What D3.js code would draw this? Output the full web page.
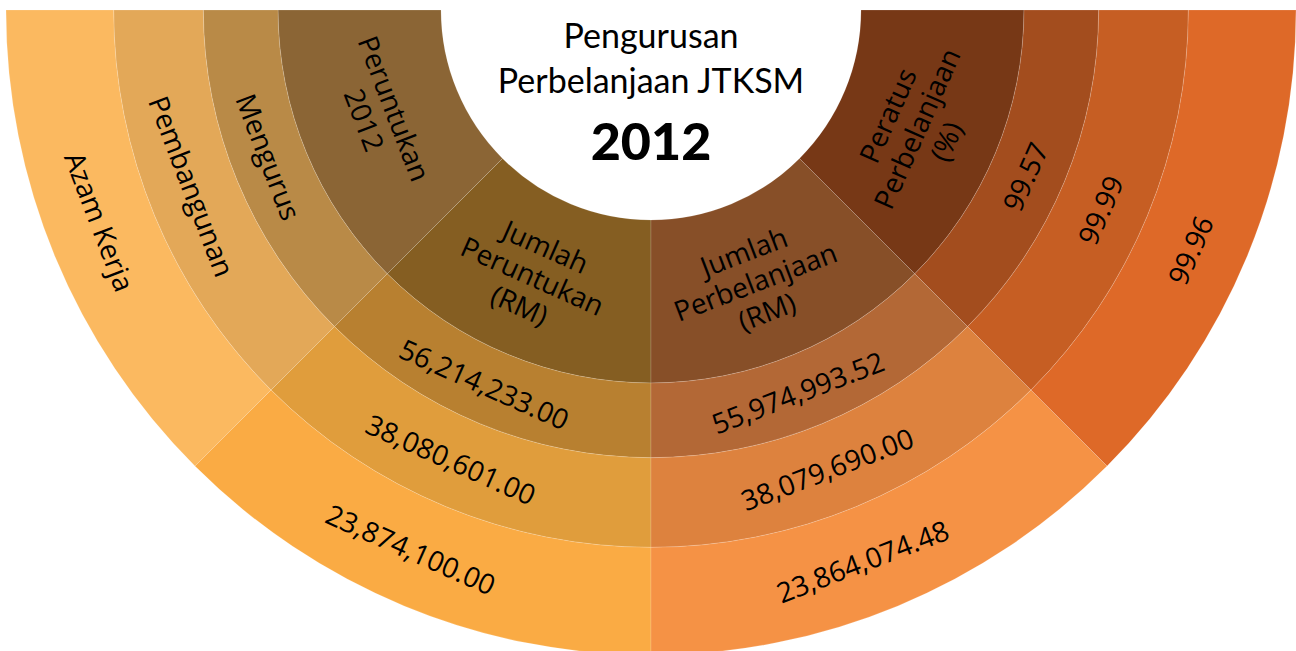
<!DOCTYPE html>
<html>
<head>
<meta charset="utf-8">
<script src="https://cdn.jsdelivr.net/npm/d3@7"></script>
<style>
  body { margin: 0; background: #fff; }
  svg { display: block; }
</style>
</head>
<body>
<div id="container"></div>
<script>
// table values
var columns = ["kepala", "peruntukan", "perbelanjaan", "peratus"];
var columnHeads = ["Peruntukan\n2012", "Jumlah\nPeruntukan\n(RM)", "Jumlah\nPerbelanjaan\n(RM)", "Peratus\nPerbelanjaan\n(%)"];
var categories = ["Mengurus", "Pembangunan", "Azam Kerja"];
var peruntukan = [56214233.00, 38080601.00, 23874100.00];
var perbelanjaan = [55974993.52, 38079690.00, 23864074.48];
var peratus = [99.57, 99.99, 99.96];
var titleLines = ["Pengurusan", "Perbelanjaan JTKSM"];
var titleYear = "2012";

// one colour per column, one shade per ring (inner -> outer)
var colours = [
    ["#8b6535", "#b98a47", "#e3a858", "#fbb960"],
    ["#855e22", "#b88030", "#e09d3c", "#faab44"],
    ["#874f28", "#b36836", "#dd823e", "#f59245"],
    ["#773816", "#a34d1e", "#c65e23", "#de6928"]
];

class HalfWheel {

    constructor(opts) {
        this.element = opts.element;
        this.width = 1296;
        this.height = 651;
        this.cx = 651;
        this.cy = 10;
        this.draw();
    }

    draw() {
        var money = d3.format(",.2f");

        // build the rows of the wheel: ring 0 is the header ring
        var rows = [columnHeads];
        categories.forEach(function (c, i) {
            rows.push([c, money(peruntukan[i]), money(perbelanjaan[i]), peratus[i].toFixed(2)]);
        });

        var cells = [];
        rows.forEach(function (row, ri) {
            row.forEach(function (txt, ci) {
                cells.push({ ring: ri, col: columns[ci], ci: ci, text: txt });
            });
        });

        // columns share the lower half of the circle (d3 angles: pi/2 .. 3pi/2)
        var angle = d3.scaleBand()
            .domain(columns)
            .range([3 * Math.PI / 2, Math.PI / 2]);

        // ring edges: header ring, then rings growing by a constant ratio
        var inner = 210;
        var rowRadius = d3.scaleLog().domain([373, 645]).range([1, rows.length]);
        var edge = function (i) { return i === 0 ? inner : rowRadius.invert(i); };

        var arc = d3.arc()
            .innerRadius(function (d) { return edge(d.ring); })
            .outerRadius(function (d) { return edge(d.ring + 1); })
            .startAngle(function (d) { return angle(d.col); })
            .endAngle(function (d) { return angle(d.col) + angle.bandwidth(); });

        var svg = d3.select(this.element)
            .append("svg")
            .attr("width", this.width)
            .attr("height", this.height);

        var g = svg.append("g")
            .attr("transform", "translate(" + this.cx + "," + this.cy + ")");

        g.selectAll("path.cell")
            .data(cells)
            .enter()
            .append("path")
            .attr("class", "cell")
            .attr("d", arc)
            .attr("fill", function (d) { return colours[d.ci][d.ring]; })
            .style("stroke", "rgba(255,255,255,0.2)")
            .style("stroke-width", 0.8);

        // labels sit in the middle of each cell, written along the ring
        var lineH = 32;
        var shift = 1.5 * Math.PI / 180;
        var labels = g.selectAll("text.cell")
            .data(cells)
            .enter()
            .append("text")
            .attr("class", "cell")
            .attr("transform", function (d) {
                var a = angle(d.col) + angle.bandwidth() / 2 + shift;
                var r = (edge(d.ring) + edge(d.ring + 1)) / 2;
                var x = r * Math.sin(a), y = -r * Math.cos(a);
                return "translate(" + x + "," + y + ") rotate(" + (a * 180 / Math.PI - 180) + ")";
            })
            .attr("text-anchor", "middle")
            .style("font-family", "'Open Sans', sans-serif")
            .style("font-size", "28px")
            .style("fill", "#000");

        labels.each(function (d) {
            var lines = d.text.split("\n");
            var t = d3.select(this);
            lines.forEach(function (l, i) {
                t.append("tspan")
                    .attr("x", 0)
                    .attr("y", (i - (lines.length - 1) / 2) * lineH)
                    .attr("dy", "0.35em")
                    .text(l);
            });
        });

        // title inside the hole
        var title = svg.append("g")
            .attr("text-anchor", "middle")
            .style("fill", "#000");

        title.selectAll("text.t")
            .data(titleLines)
            .enter()
            .append("text")
            .attr("class", "t")
            .attr("x", this.cx)
            .attr("y", function (d, i) { return 48 + i * 45; })
            .style("font-family", "Lato, sans-serif")
            .style("font-size", "34px")
            .text(function (d) { return d; });

        title.append("text")
            .attr("x", this.cx)
            .attr("y", 160)
            .style("font-family", "Lato, sans-serif")
            .style("font-size", "52px")
            .style("font-weight", 900)
            .text(titleYear);
    }
}

new HalfWheel({ element: "#container" });
</script>
</body>
</html>
